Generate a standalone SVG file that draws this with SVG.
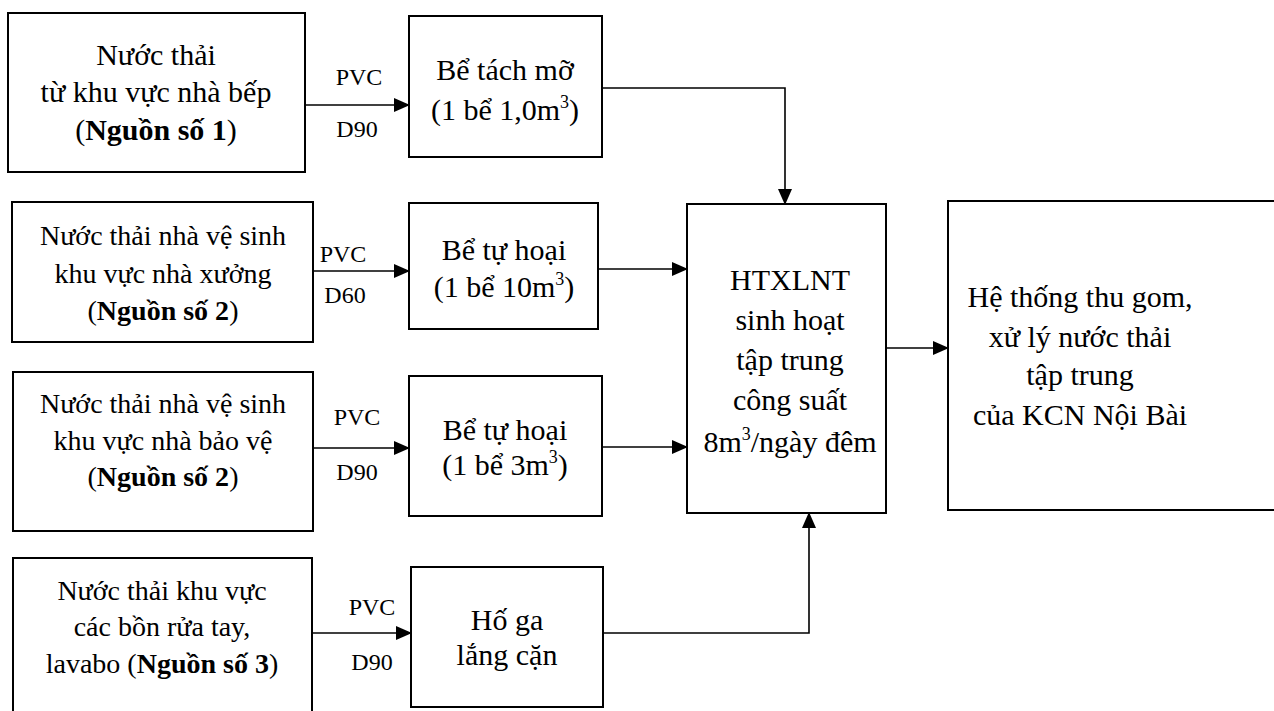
<svg xmlns="http://www.w3.org/2000/svg" width="1274" height="711" viewBox="0 0 1274 711">
<defs>
<marker id="ah" markerUnits="userSpaceOnUse" markerWidth="16" markerHeight="14" viewBox="0 0 16 14" refX="15" refY="7" orient="auto">
<path d="M0,0 L16,7 L0,14 Z" fill="#000"/>
</marker>
</defs>
<style>
.box{fill:#fff;stroke:#000;stroke-width:2}
text{fill:#000;text-anchor:middle}
.m{font-size:30px}
.s{font-size:28px}
.l{font-size:24px}
.b{font-weight:bold}
.c line,.c polyline{stroke:#000;stroke-width:1.6;fill:none;marker-end:url(#ah)}
</style>
<g font-family="'Liberation Serif', 'DejaVu Serif', serif">
<g id="n1">
<rect class="box" x="8" y="13" width="297" height="159"/>
<text class="m" x="156" y="65">Nước thải</text>
<text class="m" x="156" y="102">từ khu vực nhà bếp</text>
<text class="m" x="156" y="140">(<tspan class="b">Nguồn số 1</tspan>)</text>
</g>
<g id="n2">
<rect class="box" x="12" y="202" width="301" height="140"/>
<text class="s" x="163" y="245">Nước thải nhà vệ sinh</text>
<text class="s" x="163" y="283">khu vực nhà xưởng</text>
<text class="s" x="163" y="320">(<tspan class="b">Nguồn số 2</tspan>)</text>
</g>
<g id="n3">
<rect class="box" x="13" y="372" width="300" height="159"/>
<text class="s" x="163" y="413">Nước thải nhà vệ sinh</text>
<text class="s" x="163" y="450">khu vực nhà bảo vệ</text>
<text class="s" x="163" y="486">(<tspan class="b">Nguồn số 2</tspan>)</text>
</g>
<g id="n4">
<rect class="box" x="13" y="558" width="299" height="160"/>
<text class="s" x="162" y="600">Nước thải khu vực</text>
<text class="s" x="162" y="636">các bồn rửa tay,</text>
<text class="s" x="162" y="673">lavabo (<tspan class="b">Nguồn số 3</tspan>)</text>
</g>
<g id="t1">
<rect class="box" x="409" y="16" width="193" height="141"/>
<text class="m" x="505" y="80">Bể tách mỡ</text>
<text class="m" x="505" y="120">(1 bể 1,0m<tspan font-size="18" dy="-12">3</tspan><tspan dy="12">)</tspan></text>
</g>
<g id="t2">
<rect class="box" x="409" y="203" width="189" height="126"/>
<text class="m" x="504" y="260">Bể tự hoại</text>
<text class="m" x="504" y="297">(1 bể 10m<tspan font-size="18" dy="-12">3</tspan><tspan dy="12">)</tspan></text>
</g>
<g id="t3">
<rect class="box" x="409" y="376" width="193" height="140"/>
<text class="m" x="505" y="440">Bể tự hoại</text>
<text class="m" x="505" y="475">(1 bể 3m<tspan font-size="18" dy="-12">3</tspan><tspan dy="12">)</tspan></text>
</g>
<g id="t4">
<rect class="box" x="411" y="567" width="192" height="140"/>
<text class="m" x="507" y="630">Hố ga</text>
<text class="m" x="507" y="665">lắng cặn</text>
</g>
<g id="ht">
<rect class="box" x="687" y="204" width="199" height="309"/>
<text class="m" x="790" y="290">HTXLNT</text>
<text class="m" x="790" y="330">sinh hoạt</text>
<text class="m" x="790" y="370">tập trung</text>
<text class="m" x="790" y="410">công suất</text>
<text class="m" x="790" y="452">8m<tspan font-size="18" dy="-12">3</tspan><tspan dy="12">/ngày đêm</tspan></text>
</g>
<g id="kcn">
<rect class="box" x="948" y="201" width="340" height="309"/>
<text class="m" x="1080" y="307">Hệ thống thu gom,</text>
<text class="m" x="1080" y="347">xử lý nước thải</text>
<text class="m" x="1080" y="385">tập trung</text>
<text class="m" x="1080" y="425">của KCN Nội Bài</text>
</g>
<g id="labels">
<text class="l" x="359" y="85">PVC</text>
<text class="l" x="357" y="137">D90</text>
<text class="l" x="343" y="262">PVC</text>
<text class="l" x="345" y="303">D60</text>
<text class="l" x="357" y="425">PVC</text>
<text class="l" x="357" y="480">D90</text>
<text class="l" x="372" y="615">PVC</text>
<text class="l" x="372" y="670">D90</text>
</g>
</g>
<g class="c" id="connectors">
<line x1="305" y1="105" x2="409" y2="105"/>
<line x1="313" y1="271" x2="409" y2="271"/>
<line x1="313" y1="448" x2="409" y2="448"/>
<line x1="312" y1="633" x2="411" y2="633"/>
<polyline points="602,88 785,88 785,204"/>
<line x1="598" y1="269" x2="687" y2="269"/>
<line x1="602" y1="447" x2="687" y2="447"/>
<polyline points="603,633 809,633 809,513"/>
<line x1="886" y1="348" x2="948" y2="348"/>
</g>
</svg>
